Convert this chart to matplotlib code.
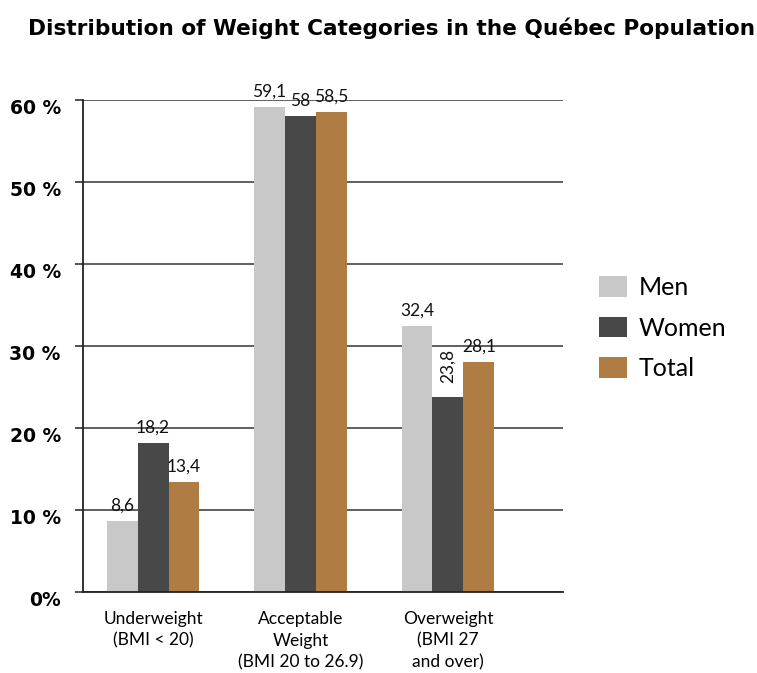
import matplotlib
matplotlib.use("Agg")
import matplotlib.pyplot as plt
import matplotlib.transforms as mtransforms
from matplotlib.patches import Patch
import numpy as np

plt.rcParams['font.family'] = ['Lato', 'DejaVu Sans']

categories = ["Underweight\n(BMI < 20)", "Acceptable\nWeight\n(BMI 20 to 26.9)", "Overweight\n(BMI 27\nand over)"]
series_names = ["Men", "Women", "Total"]
men = [8.6, 59.1, 32.4]
women = [18.2, 58.0, 23.8]
total = [13.4, 58.5, 28.1]
value_labels = {
    "Men": ["8,6", "59,1", "32,4"],
    "Women": ["18,2", "58", "23,8"],
    "Total": ["13,4", "58,5", "28,1"],
}
yticks = [0, 10, 20, 30, 40, 50, 60]
ytick_labels = ["0%", "10 %", "20 %", "30 %", "40 %", "50 %", "60 %"]
colors = ["#C8C8C8", "#484848", "#AF7D44"]

W, H = 757, 673
fig = plt.figure(figsize=(W / 100, H / 100), dpi=100)
ax = fig.add_axes([83 / W, 1 - 592 / H, (563 - 83) / W, (592 - 100) / H])

x = np.arange(len(categories))
bw = 0.21
data = [men, women, total]
for i, (name, vals, c) in enumerate(zip(series_names, data, colors)):
    pos = x + (i - 1) * bw
    ax.bar(pos, vals, width=bw, color=c, zorder=2, linewidth=0)
    for j, (p, v) in enumerate(zip(pos, vals)):
        lab = value_labels[name][j]
        if name == "Women" and j == 2:
            ax.annotate(lab, (p, v), xytext=(0, 10), textcoords="offset points",
                        ha="center", va="bottom", rotation=90, fontsize=12.5, color="#111111")
        else:
            ax.annotate(lab, (p, v), xytext=(0, 7.5), textcoords="offset points",
                        ha="center", va="baseline", fontsize=12.5, color="#111111")

ax.set_xlim(-0.475, 2.78)
ax.set_ylim(0, 60)
ax.set_yticks(yticks)
ax.set_yticklabels(ytick_labels, fontsize=13.5, fontweight="bold", family="DejaVu Sans")
ax.set_xticks(x)
ax.set_xticklabels(categories, fontsize=12.5, linespacing=1.4)
ax.tick_params(axis="x", length=0, pad=14)
ax.tick_params(axis="y", length=6, width=1.2, color="#333333", pad=10)
shift = mtransforms.ScaledTranslation(0, -5 / 72, fig.dpi_scale_trans)
for lbl in ax.get_yticklabels():
    lbl.set_transform(lbl.get_transform() + shift)
ax.yaxis.grid(True, color="#444444", linewidth=1.2, zorder=0)
ax.set_axisbelow(True)
for s in ["top", "right"]:
    ax.spines[s].set_visible(False)
ax.spines["left"].set_color("#222222")
ax.spines["left"].set_linewidth(1.3)
ax.spines["bottom"].set_color("#222222")
ax.spines["bottom"].set_linewidth(1.3)

fig.text(392 / W, 1 - 28 / H, "Distribution of Weight Categories in the Québec Population",
         ha="center", va="center", fontsize=15.6, fontweight="bold", family="DejaVu Sans")

handles = [Patch(facecolor=c, edgecolor="none") for c in colors]
fig.legend(handles, series_names, loc="center left", bbox_to_anchor=(599 / W, 1 - 328 / H),
           frameon=False, fontsize=18, handlelength=1.1, handleheight=0.9,
           handletextpad=0.5, labelspacing=0.7, borderpad=0, borderaxespad=0)

fig.savefig("out.png", dpi=100)
